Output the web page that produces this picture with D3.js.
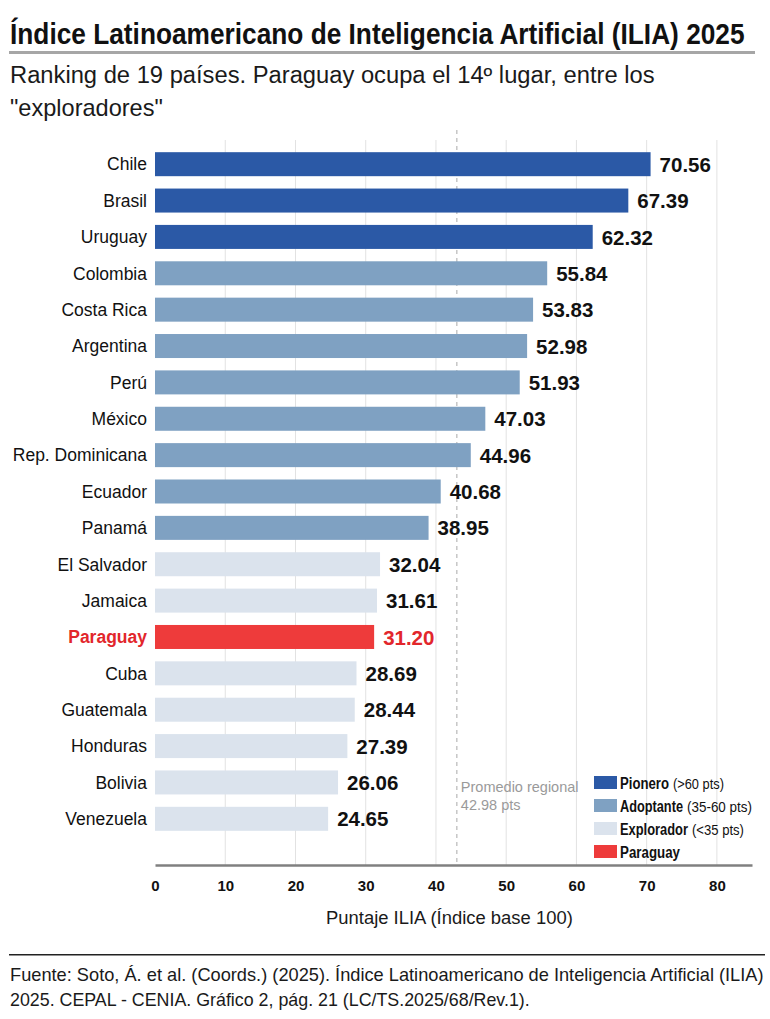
<!DOCTYPE html>
<html>
<head>
<meta charset="utf-8">
<script src="https://cdn.jsdelivr.net/npm/d3@7"></script>
<style>
  body { margin: 0; background: #fff; }
  svg { display: block; }
</style>
</head>
<body>
<svg></svg>
<script>
// datos del grafico
let countries = ['Chile','Brasil','Uruguay','Colombia','Costa Rica','Argentina','Perú','México','Rep. Dominicana','Ecuador','Panamá','El Salvador','Jamaica','Paraguay','Cuba','Guatemala','Honduras','Bolivia','Venezuela']
let scores = [70.56,67.39,62.32,55.84,53.83,52.98,51.93,47.03,44.96,40.68,38.95,32.04,31.61,31.20,28.69,28.44,27.39,26.06,24.65]
let groups = ['Pionero','Pionero','Pionero','Adoptante','Adoptante','Adoptante','Adoptante','Adoptante','Adoptante','Adoptante','Adoptante','Explorador','Explorador','Paraguay','Explorador','Explorador','Explorador','Explorador','Explorador']
let xTicks = [0,10,20,30,40,50,60,70,80]
let average = 42.98
let legendNames = ['Pionero','Adoptante','Explorador','Paraguay']
let legendNotes = ['(>60 pts)','(35-60 pts)','(<35 pts)','']

let colors = {Pionero: '#2b59a6', Adoptante: '#7fa1c2', Explorador: '#dbe3ed', Paraguay: '#ee3b3b'}
let sans = '"Liberation Sans", Arial, sans-serif'
// anchos para simular la tipografia condensada de la leyenda
let nameWidths = [49, 63, 68, 60]
let noteWidths = [51, 65, 52, 0]

let W = 770, H = 1019
let svg = d3.select('svg').attr('width', W).attr('height', H)

// texto angosto: se escala en horizontal hasta el ancho pedido
function narrowText(parent, x0, y0, size, width, txt, weight) {
  let t = parent.append('text')
    .attr('font-family', sans).attr('font-size', size)
    .attr('font-weight', weight || 'normal')
    .attr('fill', '#1a1a1a').text(txt)
  let w = t.node().getComputedTextLength()
  t.attr('transform', 'translate(' + x0 + ',' + y0 + ') scale(' + (width / w) + ',1)')
  return t
}

// titulo
narrowText(svg, 10, 44, 29, 735, 'Índice Latinoamericano de Inteligencia Artificial (ILIA) 2025', 'bold').attr('fill', '#111')
svg.append('rect').attr('x', 9).attr('y', 51).attr('width', 746).attr('height', 3).attr('fill', '#a6a6a6')
narrowText(svg, 10, 83, 23, 645, 'Ranking de 19 países. Paraguay ocupa el 14º lugar, entre los')
narrowText(svg, 10, 116, 23, 153, '"exploradores"')

// escalas
let x = d3.scaleLinear().domain([0, 85]).range([155, 752])
let y = d3.scaleBand().domain(countries).range([146, 837]).paddingInner(0.34).paddingOuter(0.17)

// grilla
svg.selectAll('line.grid').data(xTicks.slice(1)).enter().append('line')
  .attr('class', 'grid')
  .attr('x1', d => x(d)).attr('x2', d => x(d))
  .attr('y1', 140).attr('y2', 865)
  .attr('stroke', '#e2e2e2').attr('stroke-width', 1)

// promedio regional
svg.append('line')
  .attr('x1', x(average)).attr('x2', x(average))
  .attr('y1', 130).attr('y2', 865)
  .attr('stroke', '#aaa').attr('stroke-width', 1).attr('stroke-dasharray', '4,4')
let avgText = svg.append('text').attr('font-family', sans).attr('font-size', 14.5).attr('fill', '#9a9a9a')
avgText.append('tspan').attr('x', x(average) + 4).attr('y', 792).text('Promedio regional')
avgText.append('tspan').attr('x', x(average) + 4).attr('y', 810).text(average + ' pts')

// barras
svg.selectAll('rect.bar').data(scores).enter().append('rect')
  .attr('class', 'bar')
  .attr('x', x(0))
  .attr('y', (d, i) => y(countries[i]))
  .attr('width', d => x(d) - x(0))
  .attr('height', y.bandwidth())
  .attr('fill', (d, i) => colors[groups[i]])

// etiquetas de pais
svg.selectAll('text.country').data(countries).enter().append('text')
  .attr('class', 'country')
  .attr('x', 147)
  .attr('y', d => y(d) + y.bandwidth() / 2)
  .attr('dy', '0.36em')
  .attr('text-anchor', 'end')
  .attr('font-family', sans).attr('font-size', 17.5)
  .attr('font-weight', (d, i) => groups[i] == 'Paraguay' ? 'bold' : 'normal')
  .attr('fill', (d, i) => groups[i] == 'Paraguay' ? '#e2262b' : '#111')
  .text(d => d)

// valores
svg.selectAll('text.value').data(scores).enter().append('text')
  .attr('class', 'value')
  .attr('x', d => x(d) + 9)
  .attr('y', (d, i) => y(countries[i]) + y.bandwidth() / 2)
  .attr('dy', '0.37em')
  .attr('font-family', sans).attr('font-weight', 'bold').attr('font-size', 20.5)
  .attr('fill', (d, i) => groups[i] == 'Paraguay' ? '#e2262b' : '#111')
  .text(d => d.toFixed(2))

// eje x
let axis = svg.append('g').attr('transform', 'translate(0,865)')
  .call(d3.axisBottom(x).tickValues(xTicks).tickSize(0).tickPadding(15))
axis.select('.domain').attr('stroke', '#808080').attr('stroke-width', 2.5)
axis.selectAll('.tick text').attr('font-family', sans).attr('font-weight', 'bold')
  .attr('font-size', 15).attr('fill', '#111')
narrowText(svg, 326, 924, 18.5, 247, 'Puntaje ILIA (Índice base 100)')

// leyenda
legendNames.forEach(function(name, i) {
  let g = svg.append('g').attr('class', 'legend')
    .attr('transform', 'translate(594,' + (776 + i * 23) + ')')
  g.append('rect').attr('width', 23).attr('height', 13).attr('fill', colors[name])
  narrowText(g, 26, 13, 17, nameWidths[i], name, 'bold').attr('fill', '#111')
  if (legendNotes[i] != '') {
    narrowText(g, 26 + nameWidths[i] + 4, 13, 15, noteWidths[i], legendNotes[i]).attr('fill', '#111')
  }
})

// fuente
svg.append('rect').attr('x', 9).attr('y', 954).attr('width', 756).attr('height', 1.5).attr('fill', '#222')
narrowText(svg, 10, 981, 17.5, 754, 'Fuente: Soto, Á. et al. (Coords.) (2025). Índice Latinoamericano de Inteligencia Artificial (ILIA)')
narrowText(svg, 10, 1006, 17.5, 520, '2025. CEPAL - CENIA. Gráfico 2, pág. 21 (LC/TS.2025/68/Rev.1).')
</script>
</body>
</html>
